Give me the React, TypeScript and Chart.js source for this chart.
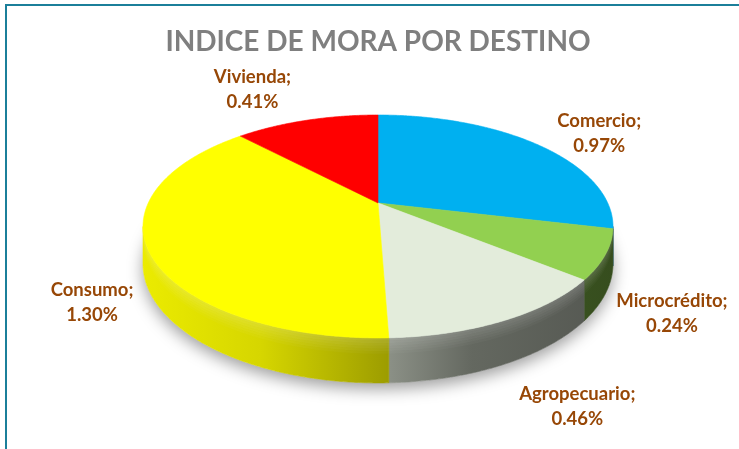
import { useEffect, useRef } from "react";
import { Chart, registerables } from "chart.js";

Chart.register(...registerables);

const TITLE = "INDICE DE MORA POR DESTINO";
const categories = ["Comercio", "Microcrédito", "Agropecuario", "Consumo", "Vivienda"];
const values = [0.97, 0.24, 0.46, 1.3, 0.41];
const colors = ["#00B0F0", "#92D050", "#E3ECDB", "#FFFF00", "#FF0000"];

// small label nudges (px) relative to the projected label anchor
const labelNudges: [number, number][] = [
  [21, 4],
  [-11, 2],
  [22, -4],
  [22, 1],
  [-37, -11],
];

// 3D view parameters
const PERSP = -0.2108; // perspective factor (near side larger)
const TILT = 0.4637; // vertical / horizontal squash of the disc
const DEPTH = 0.1545; // wall height relative to horizontal radius
const LABEL_K = 1.3;

function hexToRgb(h: string): [number, number, number] {
  const n = parseInt(h.slice(1), 16);
  return [(n >> 16) & 255, (n >> 8) & 255, n & 255];
}
function shade(h: string, f: number) {
  const [r, g, b] = hexToRgb(h);
  return `rgb(${Math.round(r * f)},${Math.round(g * f)},${Math.round(b * f)})`;
}

const pie3d = {
  id: "pie3d",
  beforeDatasetsDraw(chart: any) {
    const ctx: CanvasRenderingContext2D = chart.ctx;
    const area = chart.chartArea;
    const meta = chart.getDatasetMeta(0);
    const halfW = (area.right - area.left) / 2;
    const X0 = (area.left + area.right) / 2;
    const B = halfW * Math.sqrt(1 - PERSP * PERSP);
    const A = B * TILT;
    const Y0 = area.top + A / (1 - PERSP);
    const D = B * DEPTH;

    const proj = (phi: number, k = 1, down = 0) => {
      const s = -Math.cos(phi);
      const c = Math.sin(phi);
      const den = 1 + PERSP * k * s;
      const rimDen = 1 + PERSP * s;
      return {
        x: X0 + (B * k * c) / den,
        y: Y0 + (A * k * s) / den + (down * D) / rimDen,
        s,
        rimDen,
      };
    };
    const STEP = Math.PI / 360;
    const rimPath = (a: number, b: number, down: number, first: boolean) => {
      const n = Math.max(2, Math.ceil((b - a) / STEP));
      for (let i = 0; i <= n; i++) {
        const t = a + ((b - a) * i) / n;
        const p = proj(t, 1, down);
        if (first && i === 0) ctx.moveTo(p.x, p.y);
        else ctx.lineTo(p.x, p.y);
      }
    };
    const rimPathRev = (a: number, b: number, down: number) => {
      const n = Math.max(2, Math.ceil((b - a) / STEP));
      for (let i = n; i >= 0; i--) {
        const t = a + ((b - a) * i) / n;
        const p = proj(t, 1, down);
        ctx.lineTo(p.x, p.y);
      }
    };

    const arcs = meta.data.map((el: any) => ({
      a: el.startAngle + Math.PI / 2,
      b: el.endAngle + Math.PI / 2,
    }));

    ctx.save();

    // soft shadow under the disc
    const visA = Math.acos(PERSP);
    const visB = 2 * Math.PI - visA;
    ctx.save();
    ctx.beginPath();
    rimPath(0, 2 * Math.PI, 1, true);
    ctx.closePath();
    ctx.shadowColor = "rgba(0,0,0,0.38)";
    ctx.shadowBlur = 16;
    ctx.shadowOffsetY = 6;
    ctx.fillStyle = "#ffffff";
    ctx.fill();
    ctx.restore();

    // side walls
    const gx0 = X0 - halfW;
    const gx1 = X0 + halfW;
    arcs.forEach((r: any, i: number) => {
      const a = Math.max(r.a, visA);
      const b = Math.min(r.b, visB);
      if (b <= a) return;
      const g = ctx.createLinearGradient(gx0, 0, gx1, 0);
      g.addColorStop(0, shade(colors[i], 0.92));
      g.addColorStop(0.25, shade(colors[i], 0.84));
      g.addColorStop(0.515, shade(colors[i], 0.62));
      g.addColorStop(0.7, shade(colors[i], 0.44));
      g.addColorStop(1, shade(colors[i], 0.37));
      ctx.beginPath();
      rimPath(a, b, 0, true);
      rimPathRev(a, b, 1);
      ctx.closePath();
      ctx.fillStyle = g;
      ctx.fill();
      ctx.strokeStyle = g;
      ctx.lineWidth = 0.6;
      ctx.stroke();
      // bevel highlight on the upper part of the wall
      const bands = 6;
      for (let k = 0; k < bands; k++) {
        ctx.beginPath();
        rimPath(a, b, (k / bands) * 0.35, true);
        rimPathRev(a, b, ((k + 1) / bands) * 0.35);
        ctx.closePath();
        ctx.fillStyle = `rgba(255,255,255,${0.16 * (1 - k / bands)})`;
        ctx.fill();
      }
    });

    // top faces
    arcs.forEach((r: any, i: number) => {
      ctx.beginPath();
      ctx.moveTo(X0, Y0);
      rimPath(r.a, r.b, 0, false);
      ctx.closePath();
      ctx.fillStyle = colors[i];
      ctx.fill();
      ctx.strokeStyle = colors[i];
      ctx.lineWidth = 0.6;
      ctx.stroke();
    });

    // labels
    ctx.font = "bold 18.5px Lato";
    ctx.fillStyle = "#974706";
    ctx.textAlign = "center";
    ctx.textBaseline = "middle";
    arcs.forEach((r: any, i: number) => {
      const mid = (r.a + r.b) / 2;
      const p = proj(mid, LABEL_K);
      const x = p.x + labelNudges[i][0];
      let y = p.y + labelNudges[i][1];
      if (p.s > 0) y += D / (1 + PERSP * p.s);
      ctx.fillText(categories[i] + ";", x, y - 12.5);
      ctx.fillText(values[i].toFixed(2) + "%", x, y + 12.5);
    });

    ctx.restore();
    return false;
  },
};

export default function App() {
  const ref = useRef<HTMLCanvasElement>(null);
  useEffect(() => {
    if (!ref.current) return;
    const chart = new Chart(ref.current, {
      type: "pie",
      data: {
        labels: categories,
        datasets: [{ data: values, backgroundColor: colors, borderWidth: 0 }],
      },
      options: {
        responsive: false,
        animation: false,
        layout: { padding: { left: 143, right: 126, top: 0, bottom: 0 } },
        plugins: {
          legend: { display: false },
          tooltip: { enabled: false },
          title: {
            display: true,
            text: TITLE,
            color: "#7F7F7F",
            font: { family: "Lato", size: 28, weight: "bold" },
            padding: { top: 25, bottom: 56.4 },
          },
        },
      },
      plugins: [pie3d as any],
    });
    return () => chart.destroy();
  }, []);
  return (
    <div style={{ position: "fixed", left: 0, top: 0, width: 739, height: 449, background: "#fff", overflow: "hidden" }}>
      <canvas ref={ref} width={739} height={449} style={{ position: "absolute", left: 0, top: 0, display: "block" }} />
      <div
        style={{
          position: "absolute",
          left: 5,
          top: 4,
          width: 800,
          height: 500,
          borderTop: "2px solid #1B7F9A",
          borderLeft: "2px solid #1B7F9A",
          pointerEvents: "none",
        }}
      />
    </div>
  );
}
